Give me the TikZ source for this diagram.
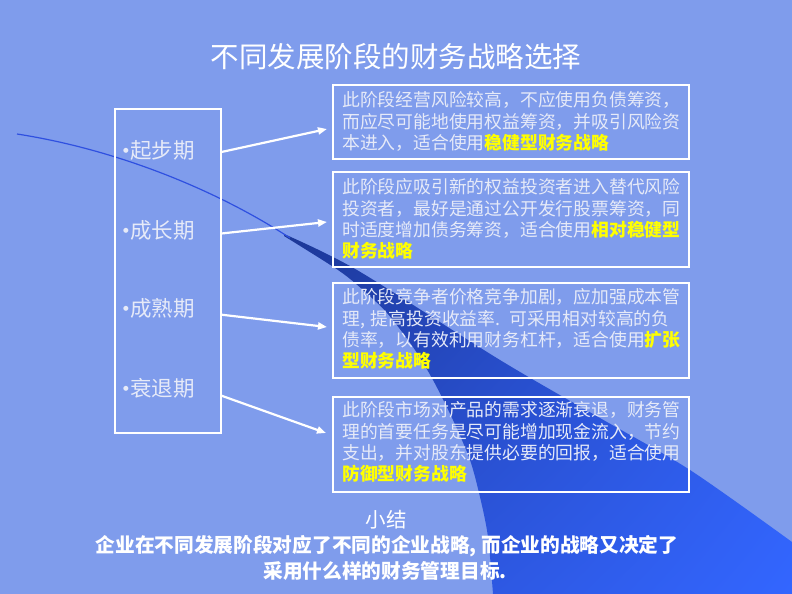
\documentclass[tikz,border=0pt]{standalone}
\usepackage{fontspec}
\setmainfont{Noto Sans CJK SC}
\newfontfamily\symfont{DejaVu Sans}
\usetikzlibrary{arrows.meta,shadings}
\definecolor{bg}{HTML}{7F9CEC}
\definecolor{boxtxt}{HTML}{E6EAF8}
\definecolor{yel}{HTML}{FFFF00}
\definecolor{thinline}{HTML}{2F50E0}
\definecolor{swA}{HTML}{1C3796}
\definecolor{swB}{HTML}{2D5AE8}
\definecolor{swC}{HTML}{2A4FD0}
\definecolor{swD}{HTML}{3366FF}
\newcommand{\hl}[1]{{\bfseries\color{yel}#1}}
\newcommand{\bul}{\raisebox{5.5bp}{\symfont\fontsize{6.5bp}{7bp}\selectfont ●}\hspace{1.5bp}}
\tikzset{
  rbox/.style={draw=white, line width=2bp, anchor=north west, inner sep=0pt, outer sep=0pt, minimum width=356bp},
  btext/.style={text=boxtxt, anchor=base west, inner sep=0pt, text width=350bp, align=left,
    font=\fontsize{17.8bp}{21.3bp}\selectfont},
  item/.style={text=boxtxt, anchor=west, inner sep=0pt, font=\fontsize{21.5bp}{24bp}\selectfont},
  arr/.style={draw=white, line width=2.2bp, -{Triangle[length=9bp,width=7bp]}},
  sumt/.style={text=white, inner sep=0pt, font=\fontsize{19.7bp}{22bp}\selectfont\bfseries}
}
\begin{document}
\begin{tikzpicture}[x=1bp,y=-1bp]
\useasboundingbox (0,0) rectangle (792,594);
\fill[bg] (0,0) rectangle (792,594);
% swoosh
\shade[upper left=swA, upper right=swB, lower left=swC, lower right=swD]
  (284,234) -- plot[smooth, tension=0.5] coordinates {(284,234) (357,270) (500,360) (600,418) (690,470) (792,542)}
  -- (792,594) -- (493,594)
  -- plot[smooth, tension=0.5] coordinates {(493,594) (488,537) (480,497) (470,460) (453,420) (433,380) (413,347) (387,313) (363,290) (338,270) (284,236)}
  -- cycle;
\draw[thinline, line width=1.2bp] (17,134) .. controls (120,150) and (220,192) .. (290,238);
% title
\node[text=white, font=\fontsize{28.5bp}{30bp}\selectfont] (title) at (396,57) {不同发展阶段的财务战略选择};
% left box
\node[draw=white, line width=2bp, anchor=north west, inner sep=0pt, outer sep=0pt,
      minimum width=105.5bp, minimum height=324bp] (L) at (115,109) {};
\node[item] (i1) at (123,150) {\bul 起步期};
\node[item] (i2) at (123,230) {\bul 成长期};
\node[item] (i3) at (123,308) {\bul 成熟期};
\node[item] (i4) at (123,388) {\bul 衰退期};
% right boxes
\node[rbox, minimum height=74bp] (b1) at (333,85) {};
\node[rbox, minimum height=95bp] (b2) at (333,172) {};
\node[rbox, minimum height=95bp] (b3) at (333,283) {};
\node[rbox, minimum height=95bp] (b4) at (333,397) {};
\node[btext] (t1) at (342,106.8) {此阶段经营风险较高，不应使用负债筹资，\\
而应尽可能地使用权益筹资，并吸引风险资\\
本进入，适合使用\hl{稳健型财务战略}};
\node[btext] (t2) at (342,193.8) {此阶段应吸引新的权益投资者进入替代风险\\
投资者，最好是通过公开发行股票筹资，同\\
时适度增加债务筹资，适合使用\hl{相对稳健型}\\
\hl{财务战略}};
\node[btext] (t3) at (342,303.8) {此阶段竞争者价格竞争加剧，应加强成本管\\
\makebox[338bp][s]{理, 提高投资收益率. 可采用相对较高的负}\\
债率，以有效利用财务杠杆，适合使用\hl{扩张}\\
\hl{型财务战略}};
\node[btext] (t4) at (342,416.8) {此阶段市场对产品的需求逐渐衰退，财务管\\
理的首要任务是尽可能增加现金流入，节约\\
支出，并对股东提供必要的回报，适合使用\\
\hl{防御型财务战略}};
% arrows
\draw[arr] ([shift={(1,43)}]L.north east) -- ([shift={(-6,7)}]b1.west);
\draw[arr] ([shift={(1,124.5)}]L.north east) -- ([shift={(-6,2.5)}]b2.west);
\draw[arr] ([shift={(1,205.7)}]L.north east) -- ([shift={(-6,-3.5)}]b3.west);
\draw[arr] ([shift={(1,286.7)}]L.north east) -- ([shift={(-7,-11.5)}]b4.west);
% summary
\node[text=white, inner sep=0pt, font=\fontsize{20.5bp}{22bp}\selectfont] (sh) at (386,520) {小结};
\node[sumt] (s1) at (387,546) {企业在不同发展阶段对应了不同的企业战略, 而企业的战略又决定了};
\node[sumt] (s2) at (385,571) {采用什么样的财务管理目标.};
\end{tikzpicture}
\end{document}
